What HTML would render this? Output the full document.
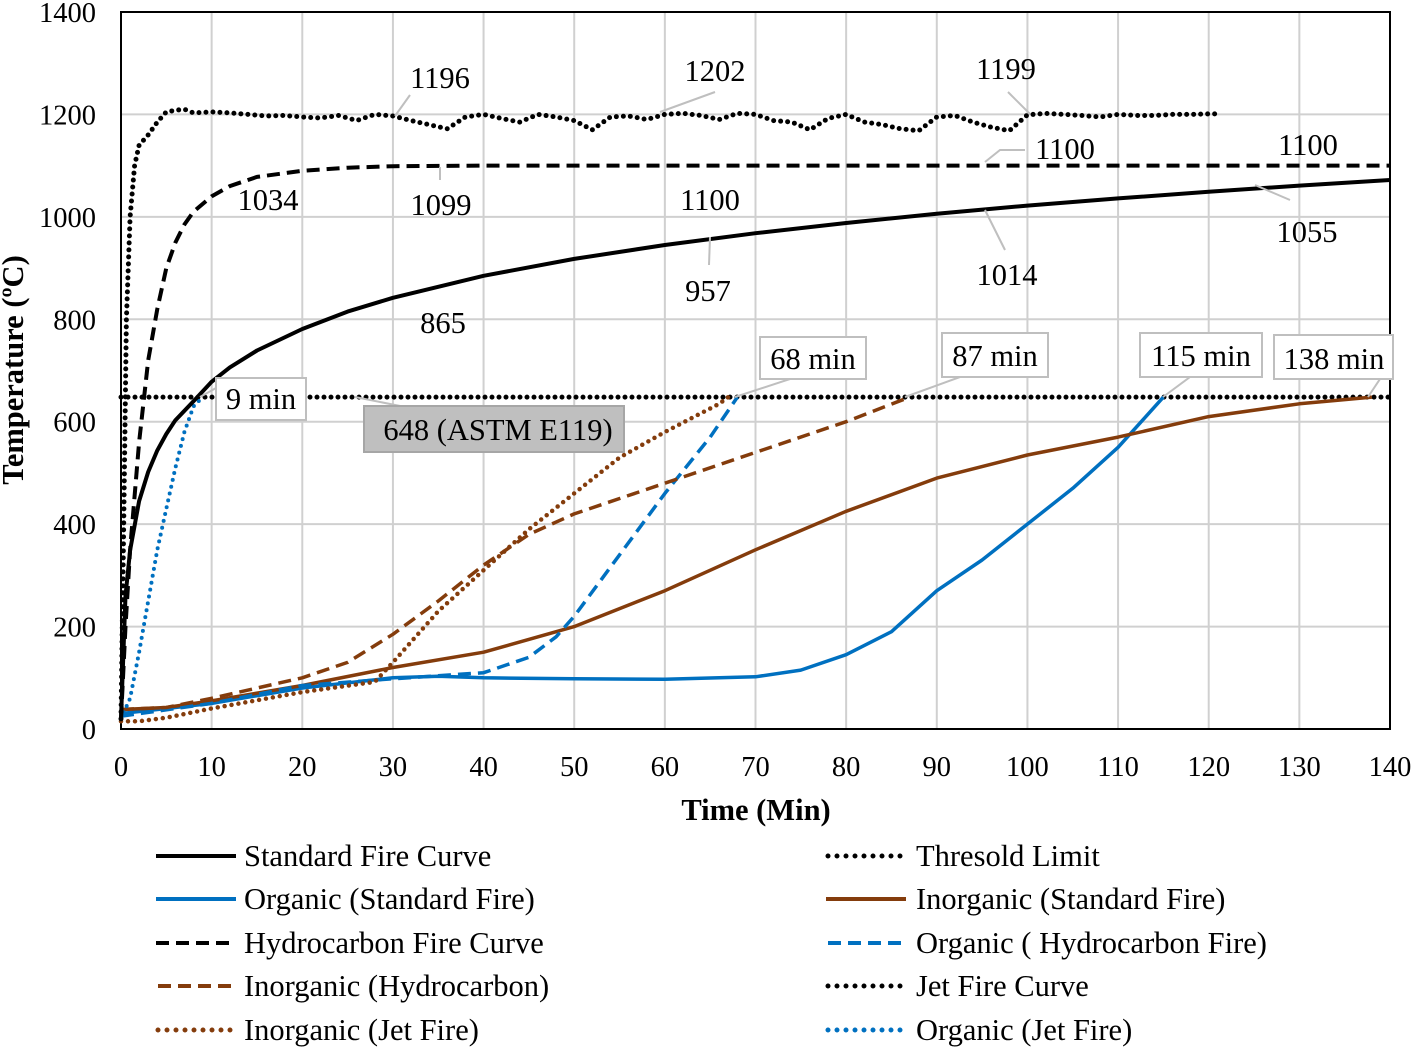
<!DOCTYPE html>
<html><head><meta charset="utf-8"><style>
body{margin:0;background:#fff}
svg{display:block;font-family:"Liberation Serif",serif}
</style></head><body>
<svg id="c" width="1413" height="1047"></svg>
<script>
const xTicks=[0,10,20,30,40,50,60,70,80,90,100,110,120,130,140];
const yTicks=[0,200,400,600,800,1000,1200,1400];
const stdT=[0,0.5,1,2,3,4,5,6,8,10,12,15,20,25,30,40,50,60,70,80,90,100,110,120,130,140];
const stdV=[20,260,349,445,502,544,576,603,640,678,706,739,781,815,842,885,918,945,968,988,1006,1022,1036,1049,1061,1072];
const hcT=[0,0.5,1,2,3,4,5,6,7,8,10,12,15,20,25,30,40,60,80,100,120,140];
const hcV=[20,200,350,560,720,820,900,950,985,1010,1040,1060,1078,1090,1096,1099,1100,1100,1100,1100,1100,1100];
const jetT=[0,0.3,0.6,1,1.5,2,3,4,5,6,7,8,10,12,14,16,18,20,22,24,26,28,30,32,34,36,38,40,42,44,46,48,50,52,54,56,58,60,62,64,66,68,70,72,74,76,78,80,82,84,86,88,90,92,94,96,98,100,102,104,106,108,110,112,114,116,118,120,121];
const jetV=[20,400,800,1000,1100,1140,1160,1185,1205,1208,1210,1203,1205,1203,1200,1197,1198,1195,1193,1198,1188,1200,1197,1188,1180,1172,1195,1200,1192,1185,1200,1195,1188,1170,1195,1197,1190,1200,1202,1198,1190,1202,1200,1188,1185,1170,1192,1200,1185,1180,1172,1168,1195,1198,1185,1175,1168,1199,1202,1200,1198,1195,1200,1198,1198,1200,1200,1201,1201];
const thrT=[0,140];
const thrV=[648,648];
const ojT=[0,1,2,3,4,5,6,7,8,9];
const ojV=[20,60,150,250,350,430,510,580,630,648];
const osT=[0,5,10,20,30,35,40,50,60,70,75,80,85,90,95,100,105,110,115];
const osV=[30,40,50,80,100,103,100,98,97,102,115,145,190,270,330,400,470,550,648];
const ohT=[0,10,20,30,40,45,48,50,55,60,65,68];
const ohV=[25,50,85,98,110,140,180,220,340,460,570,648];
const isT=[0,5,10,20,30,40,50,60,70,80,90,100,110,120,130,138];
const isV=[38,42,55,85,120,150,200,270,350,425,490,535,570,610,635,648];
const ihT=[0,5,10,20,25,30,35,40,45,50,60,70,80,87];
const ihV=[38,42,60,100,130,185,250,320,380,420,480,540,600,648];
const ijT=[0,2,5,10,20,28,30,35,40,45,50,55,60,66,67];
const ijV=[15,15,22,40,72,92,130,230,310,390,460,530,580,635,648];

const X0=121,X1=1390,Y0=729,Y1=12;
const xs=t=>X0+t*(X1-X0)/140, ys=v=>Y0-v*(Y0-Y1)/1400;
const NS="http://www.w3.org/2000/svg", svg=document.getElementById('c');
function mk(tag,attrs,parent){const e=document.createElementNS(NS,tag);for(const k in attrs)e.setAttribute(k,attrs[k]);(parent||svg).appendChild(e);return e;}
xTicks.forEach(t=>{const l=mk('line',{x1:xs(t),x2:xs(t),y1:Y1,y2:Y0,stroke:'#d0d0d0','stroke-width':2});


const tx=mk('text',{x:xs(t),y:776,'font-size':28.5,'text-anchor':'middle'});tx.textContent=t;

});
yTicks.forEach(v=>{const l=mk('line',{x1:X0,x2:X1,y1:ys(v),y2:ys(v),stroke:'#d0d0d0','stroke-width':2});


const tx=mk('text',{x:96,y:ys(v)+10,'font-size':28.5,'text-anchor':'end'});tx.textContent=v;

});
const fr=mk('rect',{x:X0,y:Y1,width:X1-X0,height:Y0-Y1,fill:'none',stroke:'#000','stroke-width':2});


const BR='#843c0c',BL='#0070c0';
const styles={solid:{},dash:{'stroke-dasharray':'13 7'},dot:{'stroke-dasharray':'0 7','stroke-linecap':'round'}};
function series(T,V,color,w,st,name){
 const d=T.map((t,i)=>(i?'L':'M')+xs(t).toFixed(1)+' '+ys(V[i]).toFixed(1)).join(' ');
 const p=mk('path',Object.assign({d,fill:'none',stroke:color,'stroke-width':w,'stroke-linejoin':'round'},styles[st]));
 
 
}
series(thrT,thrV,'#000',5,'dot','threshold-limit-line');
series(osT,osV,BL,3.5,'solid','organic-standard-fire-line');
series(isT,isV,BR,3.5,'solid','inorganic-standard-fire-line');
series(ohT,ohV,BL,3.5,'dash','organic-hydrocarbon-fire-line');
series(ihT,ihV,BR,3.5,'dash','inorganic-hydrocarbon-line');
series(ijT,ijV,BR,4.5,'dot','inorganic-jet-fire-line');
series(ojT,ojV,BL,4,'dot','organic-jet-fire-line');
series(stdT,stdV,'#000',4,'solid','standard-fire-curve-line');
series(hcT,hcV,'#000',4,'dash','hydrocarbon-fire-curve-line');
series(jetT,jetV,'#000',5,'dot','jet-fire-curve-line');
</script>
<svg width="1413" height="1047" style="position:absolute;left:0;top:0">
<g stroke="#bfbfbf" stroke-width="2" fill="none">
<path d="M395 116 L410 95"/><path d="M660 112 L715 92"/><path d="M1030 114 L1008 92"/>
<path d="M985 162 L1000 150 L1025 150"/><path d="M1255 185 L1290 200"/><path d="M985 210 L1005 250"/>
<path d="M710 237 L709 265"/><path d="M440 167 L440 180"/><path d="M355 397 L420 410"/>
</g>
<g font-size="30.5" text-anchor="middle">
<text x="440" y="88">1196</text>
<text x="715" y="81">1202</text>
<text x="1006" y="79">1199</text>
<text x="1065" y="159">1100</text>
<text x="1308" y="155">1100</text>
<text x="268" y="210">1034</text>
<text x="441" y="215">1099</text>
<text x="710" y="210">1100</text>
<text x="1307" y="242">1055</text>
<text x="1007" y="285">1014</text>
<text x="708" y="301">957</text>
<text x="443" y="333">865</text>
</g>
<g fill="#fff" stroke="#bfbfbf" stroke-width="2">
<rect x="216" y="378" width="90" height="42"/><rect x="760" y="337" width="106" height="42"/>
<rect x="942" y="333" width="106" height="44"/><rect x="1140" y="333" width="122" height="44"/>
<rect x="1274" y="335" width="119" height="44"/>
<rect x="364" y="406" width="260" height="46" fill="#bfbfbf" stroke="#a6a6a6"/>
</g>
<g stroke="#bfbfbf" stroke-width="2" fill="none">
<path d="M216 388 L200 397"/><path d="M790 379 L735 397"/><path d="M960 377 L905 397"/>
<path d="M1190 377 L1163 397"/><path d="M1380 379 L1368 397"/>
</g>
<g font-size="30.5" text-anchor="middle">
<text x="261" y="409">9 min</text>
<text x="813" y="369">68 min</text>
<text x="995" y="366">87 min</text>
<text x="1201" y="366">115 min</text>
<text x="1334" y="369">138 min</text>
<text x="498" y="440">648 (ASTM E119)</text>
</g>
<text x="756" y="820" font-size="30.5" font-weight="bold" text-anchor="middle">Time (Min)</text>
<text transform="translate(23,370) rotate(-90)" font-size="30.5" font-weight="bold" text-anchor="middle">Temperature (ºC)</text>
<g font-size="30.5">
<line x1="156" x2="236" y1="856" y2="856" stroke="#000" stroke-width="4"/><text x="244" y="866">Standard Fire Curve</text>
<line x1="156" x2="236" y1="899" y2="899" stroke="#0070c0" stroke-width="4"/><text x="244" y="909">Organic (Standard Fire)</text>
<line x1="156" x2="236" y1="943" y2="943" stroke="#000" stroke-width="4" stroke-dasharray="13 7"/><text x="244" y="953">Hydrocarbon Fire Curve</text>
<line x1="158" x2="236" y1="986" y2="986" stroke="#843c0c" stroke-width="4" stroke-dasharray="13 7"/><text x="244" y="996">Inorganic (Hydrocarbon)</text>
<line x1="158" x2="236" y1="1030" y2="1030" stroke="#843c0c" stroke-width="5" stroke-dasharray="0 9" stroke-linecap="round"/><text x="244" y="1040">Inorganic (Jet Fire)</text>
<line x1="828" x2="906" y1="856" y2="856" stroke="#000" stroke-width="5" stroke-dasharray="0 9" stroke-linecap="round"/><text x="916" y="866">Thresold Limit</text>
<line x1="826" x2="906" y1="899" y2="899" stroke="#843c0c" stroke-width="4"/><text x="916" y="909">Inorganic (Standard Fire)</text>
<line x1="828" x2="906" y1="943" y2="943" stroke="#0070c0" stroke-width="4" stroke-dasharray="13 7"/><text x="916" y="953">Organic ( Hydrocarbon Fire)</text>
<line x1="828" x2="906" y1="986" y2="986" stroke="#000" stroke-width="5" stroke-dasharray="0 9" stroke-linecap="round"/><text x="916" y="996">Jet Fire Curve</text>
<line x1="828" x2="906" y1="1030" y2="1030" stroke="#0070c0" stroke-width="5" stroke-dasharray="0 9" stroke-linecap="round"/><text x="916" y="1040">Organic (Jet Fire)</text>
</g>
</svg>
</body></html>
